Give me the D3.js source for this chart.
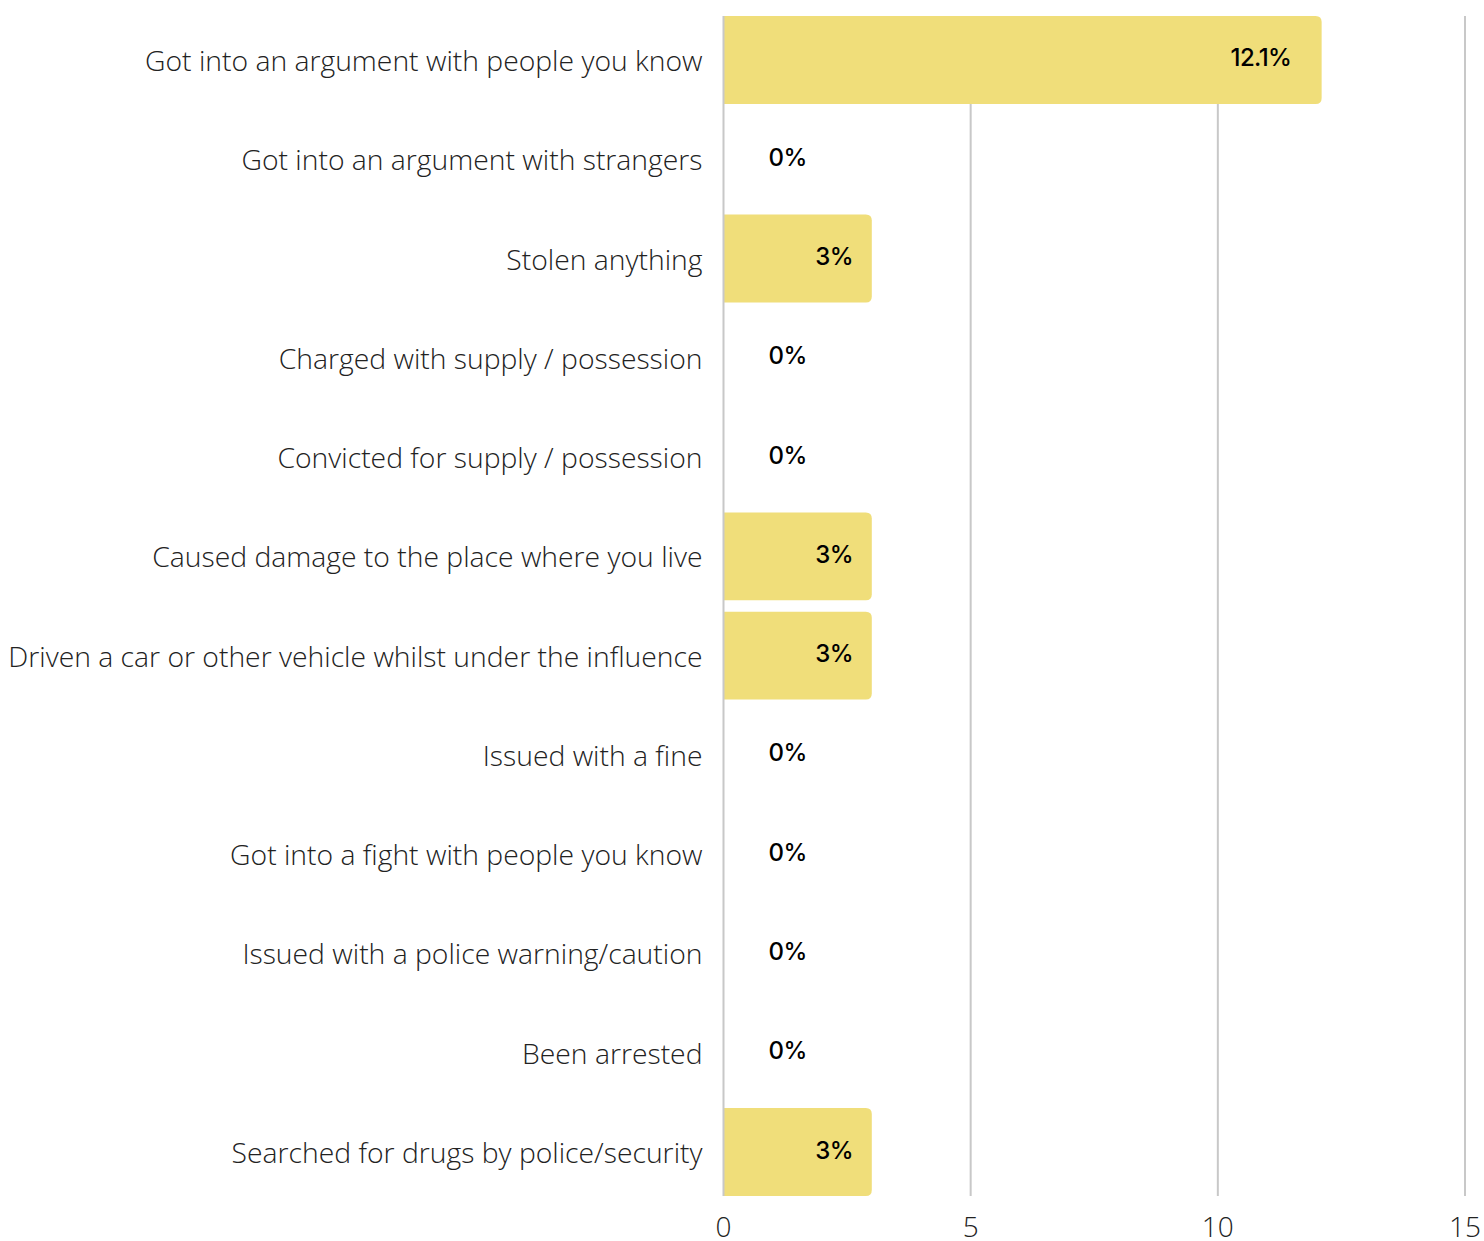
<!DOCTYPE html>
<html><head><meta charset="utf-8">
<script src="https://cdn.jsdelivr.net/npm/d3@7"></script>
<style>body{margin:0;background:#fff}svg{display:block}</style>
</head><body>
<script>
const categories = [
  "Got into an argument with people you know",
  "Got into an argument with strangers",
  "Stolen anything",
  "Charged with supply / possession",
  "Convicted for supply / possession",
  "Caused damage to the place where you live",
  "Driven a car or other vehicle whilst under the influence",
  "Issued with a fine",
  "Got into a fight with people you know",
  "Issued with a police warning/caution",
  "Been arrested",
  "Searched for drugs by police/security"
];
const values = [12.1, 0, 3, 0, 0, 3, 3, 0, 0, 0, 0, 3];
const valueLabels = ["12.1%", "0%", "3%", "0%", "0%", "3%", "3%", "0%", "0%", "0%", "0%", "3%"];
const tickValues = [0, 5, 10, 15];

(function(){
const W = 1484, H = 1241;
const svg = d3.select("body").append("svg").attr("width", W).attr("height", H);
const x = d3.scaleLinear().domain([0, 15]).range([723.5, 1465]);
const y = d3.scaleBand().domain(categories).range([10.3, 1201.7]).paddingInner(0.114).paddingOuter(0.057);

const yTop = y(categories[0]), yBottom = y(categories[categories.length-1]) + y.bandwidth();

svg.append("g").selectAll("line").data(tickValues.slice(1)).join("line")
  .attr("x1", d => x(d)).attr("x2", d => x(d))
  .attr("y1", yTop).attr("y2", yBottom)
  .attr("stroke", "#c8c8c8").attr("stroke-width", 2);

const r = 6;
svg.append("g").selectAll("path").data(values.map((v,i)=>({v, c: categories[i]})).filter(d => d.v > 0)).join("path")
  .attr("fill", "#f0de7a")
  .attr("d", d => {
    const x0 = x(0), x1 = x(d.v), y0 = y(d.c), y1 = y0 + y.bandwidth();
    return `M${x0},${y0}H${x1-r}Q${x1},${y0} ${x1},${y0+r}V${y1-r}Q${x1},${y1} ${x1-r},${y1}H${x0}Z`;
  });

svg.append("line").attr("x1", x(0)).attr("x2", x(0)).attr("y1", yTop).attr("y2", yBottom)
  .attr("stroke", "#c8c8c8").attr("stroke-width", 2);

svg.append("g").selectAll("text").data(categories).join("text")
  .attr("x", x(0) - 21).attr("y", d => y(d) + y.bandwidth()/2)
  .attr("text-anchor", "end").attr("dominant-baseline", "central")
  .attr("font-family", "'Open Sans'").attr("font-weight", 300)
  .attr("font-size", 28.3).attr("fill", "#222")
  .text(d => d);

const vl = svg.append("g").selectAll("text").data(values.map((v,i)=>({v, c: categories[i], t: valueLabels[i]}))).join("text")
  .attr("y", d => y(d.c) + y.bandwidth()/2 - 2)
  .attr("dominant-baseline", "central")
  .attr("font-family", "Inter").attr("font-weight", 500)
  .attr("font-size", 24).attr("letter-spacing", -0.6).attr("fill", "#000")
  .text(d => d.t);
vl.each(function(d){
  const w = this.getComputedTextLength();
  const el = d3.select(this);
  if (d.v > 0) el.attr("text-anchor", "end").attr("x", x(d.v) - 0.5*w);
  else el.attr("text-anchor", "start").attr("x", x(0) + 45);
});

svg.append("g").selectAll("text").data(tickValues).join("text")
  .attr("x", d => x(d)).attr("y", 1237)
  .attr("text-anchor", "middle")
  .attr("font-family", "'Open Sans'").attr("font-weight", 300)
  .attr("font-size", 28).attr("fill", "#222")
  .text(d => d);
})();
</script>
</body></html>
